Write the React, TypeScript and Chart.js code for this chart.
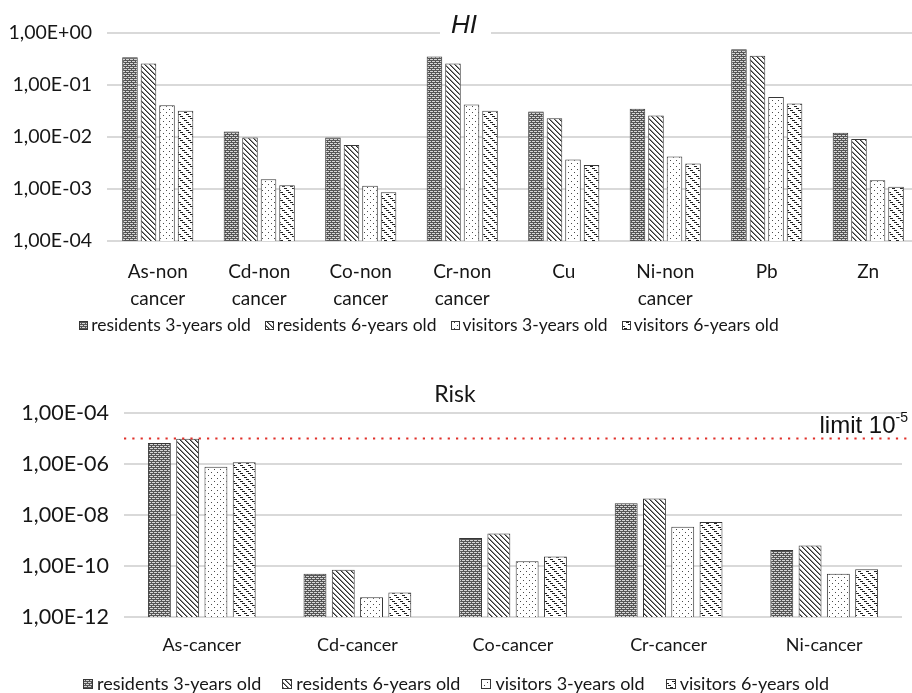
import React, { useEffect, useRef } from 'react';
import { Chart, registerables } from 'chart.js';

Chart.register(...registerables);

// ---- Hazard index (HI) ----
const HI_CATEGORIES = [
  ['As-non', 'cancer'],
  ['Cd-non', 'cancer'],
  ['Co-non', 'cancer'],
  ['Cr-non', 'cancer'],
  'Cu',
  ['Ni-non', 'cancer'],
  'Pb',
  'Zn',
];
const HI_RESIDENTS_3Y = [0.34, 0.0128, 0.0098, 0.355, 0.031, 0.035, 0.485, 0.0121];
const HI_RESIDENTS_6Y = [0.26, 0.0098, 0.007, 0.26, 0.023, 0.026, 0.366, 0.0092];
const HI_VISITORS_3Y = [0.041, 0.00154, 0.00115, 0.042, 0.0037, 0.0042, 0.059, 0.00147];
const HI_VISITORS_6Y = [0.032, 0.00118, 0.00087, 0.032, 0.0029, 0.0031, 0.044, 0.0011];
const HI_TICKS = [1e-4, 1e-3, 1e-2, 1e-1, 1];
const HI_TICK_LABELS = ['1,00E-04', '1,00E-03', '1,00E-02', '1,00E-01', '1,00E+00'];

// ---- Cancer risk ----
const RISK_CATEGORIES = ['As-cancer', 'Cd-cancer', 'Co-cancer', 'Cr-cancer', 'Ni-cancer'];
const RISK_RESIDENTS_3Y = [6.6e-6, 5.0e-11, 1.25e-9, 2.9e-8, 4.2e-10];
const RISK_RESIDENTS_6Y = [9.7e-6, 7.2e-11, 1.9e-9, 4.4e-8, 6.3e-10];
const RISK_VISITORS_3Y = [7.8e-7, 6.0e-12, 1.55e-10, 3.5e-9, 5.0e-11];
const RISK_VISITORS_6Y = [1.17e-6, 9.1e-12, 2.35e-10, 5.3e-9, 7.4e-11];
const RISK_TICKS = [1e-12, 1e-10, 1e-8, 1e-6, 1e-4];
const RISK_TICK_LABELS = ['1,00E-12', '1,00E-10', '1,00E-08', '1,00E-06', '1,00E-04'];
const RISK_LIMIT = 1e-5;
const RISK_LIMIT_LABEL = 'limit 10';
const RISK_LIMIT_EXPONENT = '-5';

const SERIES_LABELS = [
  'residents 3-years old',
  'residents 6-years old',
  'visitors 3-years old',
  'visitors 6-years old',
];

const FONT = 'Lato';
const TEXT = '#161616';
const GRID = '#d9d9d9';
const EDGE = '#363636';

type PatternKind = 'grid' | 'diag' | 'dots' | 'dashdiag';
const SERIES_PATTERNS: PatternKind[] = ['grid', 'diag', 'dots', 'dashdiag'];

function makePattern(ctx: CanvasRenderingContext2D, kind: PatternKind): CanvasPattern {
  const size = kind === 'grid' ? 4 : kind === 'dashdiag' ? 8 : kind === 'diag' ? 5 : 6;
  const tile = document.createElement('canvas');
  tile.width = size;
  tile.height = size;
  const g = tile.getContext('2d')!;
  g.fillStyle = kind === 'grid' ? '#555555' : '#ffffff';
  g.fillRect(0, 0, size, size);
  const px = (x: number, y: number, c: string) => {
    g.fillStyle = c;
    g.fillRect(x, y, 1, 1);
  };
  if (kind === 'grid') {
    [[0, 1], [1, 1], [2, 1], [2, 3], [3, 3], [0, 3]].forEach(([x, y]) => px(x, y, '#d6d6d6'));
  } else if (kind === 'diag') {
    for (let y = 0; y < size; y++)
      for (let x = 0; x < size; x++) {
        const d = (x - y + size * 2) % size;
        if (d === 0) px(x, y, '#2e2e2e');
        else if (d === 1) px(x, y, '#8c8c8c');
      }
  } else if (kind === 'dots') {
    px(1, 1, '#4a4a4a');
    px(4, 4, '#4a4a4a');
  } else {
    for (let y = 0; y < size; y += 2)
      for (let k = 0; k < 3; k++) px((y + k) % size, y, '#222222');
  }
  return ctx.createPattern(tile, 'repeat')!;
}

function tickLabel(ticks: number[], labels: string[], v: number): string {
  const i = ticks.findIndex((t) => Math.abs(Math.log10(t) - Math.log10(v)) < 1e-6);
  return i >= 0 ? labels[i] : '';
}

// Legend with hatched swatches, laid out centred on a given x.
const patternLegend = {
  id: 'patternLegend',
  afterDraw(chart: any, _args: any, opts: any) {
    const { ctx } = chart;
    ctx.save();
    ctx.font = `${opts.size}px ${FONT}`;
    const items = chart.data.datasets.map((ds: any) => ({
      label: ds.label as string,
      fill: ds.backgroundColor,
      w: ctx.measureText(ds.label).width,
    }));
    const total =
      items.reduce((s: number, it: any) => s + opts.box + opts.boxGap + it.w, 0) +
      opts.gap * (items.length - 1);
    let x = opts.centerX - total / 2;
    ctx.textBaseline = 'middle';
    ctx.textAlign = 'left';
    for (const it of items) {
      const top = Math.round(opts.y - opts.box / 2);
      ctx.fillStyle = it.fill;
      ctx.fillRect(Math.round(x), top, opts.box, opts.box);
      ctx.strokeStyle = EDGE;
      ctx.lineWidth = 1;
      ctx.strokeRect(Math.round(x) + 0.5, top + 0.5, opts.box - 1, opts.box - 1);
      ctx.fillStyle = TEXT;
      ctx.fillText(it.label, x + opts.box + opts.boxGap, opts.y);
      x += opts.box + opts.boxGap + it.w + opts.gap;
    }
    ctx.restore();
  },
};

// Title text drawn over a white patch so the gridline behind it is interrupted.
const panelTitle = {
  id: 'panelTitle',
  afterDraw(chart: any, _args: any, opts: any) {
    const { ctx } = chart;
    ctx.save();
    ctx.font = opts.font;
    const w = ctx.measureText(opts.text).width;
    if (opts.clear) {
      ctx.fillStyle = '#ffffff';
      ctx.fillRect(opts.x - w / 2 - opts.clear[0], opts.y - 8, w + opts.clear[0] + opts.clear[1], 12);
    }
    ctx.fillStyle = TEXT;
    ctx.textAlign = 'center';
    ctx.textBaseline = 'alphabetic';
    ctx.fillText(opts.text, opts.x, opts.y);
    ctx.restore();
  },
};

// Dotted threshold line with its label, for the risk panel.
const limitLine = {
  id: 'limitLine',
  afterDatasetsDraw(chart: any, _args: any, opts: any) {
    if (!opts || opts.value == null) return;
    const { ctx, chartArea } = chart;
    const y = chart.scales.y.getPixelForValue(opts.value);
    ctx.save();
    ctx.strokeStyle = '#e0302a';
    ctx.lineWidth = 2.2;
    ctx.setLineDash([2.2, 6.1]);
    ctx.beginPath();
    ctx.moveTo(chartArea.left, y);
    ctx.lineTo(chart.width, y);
    ctx.stroke();
    ctx.setLineDash([]);
    const big = '24px "Liberation Sans"';
    const small = '14px "Liberation Sans"';
    ctx.font = big;
    const mainW = ctx.measureText(opts.label).width;
    ctx.font = small;
    const supW = ctx.measureText(opts.exponent).width;
    const right = chart.width - 4;
    ctx.fillStyle = '#111111';
    ctx.textBaseline = 'alphabetic';
    ctx.textAlign = 'left';
    ctx.font = big;
    ctx.fillText(opts.label, right - supW - mainW, y - 6);
    ctx.font = small;
    ctx.fillText(opts.exponent, right - supW, y - 17);
    ctx.restore();
  },
};

interface PanelSpec {
  categories: any[];
  series: number[][];
  min: number;
  max: number;
  ticks: number[];
  tickLabels: string[];
  yFont: number;
  yWidth: number;
  yPad: number;
  xFont: number;
  xLineHeight: number;
  xPad: number;
  xHeight: number;
  padding: { top: number; right: number; left: number; bottom: number };
  catPct: number;
  barPct: number;
  title: any;
  legend: any;
  limit?: any;
}

function buildPanel(canvas: HTMLCanvasElement, spec: PanelSpec): Chart {
  const ctx = canvas.getContext('2d')!;
  const datasets = spec.series.map((data, i) => ({
    label: SERIES_LABELS[i],
    data,
    backgroundColor: makePattern(ctx, SERIES_PATTERNS[i]),
    borderColor: EDGE,
    borderWidth: 1,
    categoryPercentage: spec.catPct,
    barPercentage: spec.barPct,
  }));
  return new Chart(canvas, {
    type: 'bar',
    data: { labels: spec.categories, datasets },
    plugins: [limitLine, panelTitle, patternLegend],
    options: {
      responsive: false,
      animation: false,
      devicePixelRatio: 1,
      layout: { padding: spec.padding },
      scales: {
        x: {
          grid: { display: false },
          border: { display: false },
          ticks: {
            color: TEXT,
            font: { family: FONT, size: spec.xFont, lineHeight: spec.xLineHeight },
            padding: spec.xPad,
            maxRotation: 0,
            autoSkip: false,
          },
          afterFit: (scale: any) => {
            scale.height = spec.xHeight;
          },
        },
        y: {
          type: 'logarithmic',
          min: spec.min,
          max: spec.max,
          border: { display: false },
          grid: { color: GRID, lineWidth: 2, drawTicks: false },
          ticks: {
            color: TEXT,
            font: { family: FONT, size: spec.yFont },
            padding: spec.yPad,
            callback: (v: any) => tickLabel(spec.ticks, spec.tickLabels, Number(v)),
          },
          afterBuildTicks: (scale: any) => {
            scale.ticks = spec.ticks.map((value) => ({ value }));
          },
          afterFit: (scale: any) => {
            scale.width = spec.yWidth;
          },
        },
      },
      plugins: {
        legend: { display: false },
        tooltip: { enabled: false },
        panelTitle: spec.title,
        patternLegend: spec.legend,
        limitLine: spec.limit ?? {},
      } as any,
    },
  } as any);
}

export default function App() {
  const hiRef = useRef<HTMLCanvasElement>(null);
  const riskRef = useRef<HTMLCanvasElement>(null);

  useEffect(() => {
    const hi = buildPanel(hiRef.current!, {
      categories: HI_CATEGORIES,
      series: [HI_RESIDENTS_3Y, HI_RESIDENTS_6Y, HI_VISITORS_3Y, HI_VISITORS_6Y],
      min: 1e-4,
      max: 1,
      ticks: HI_TICKS,
      tickLabels: HI_TICK_LABELS,
      yFont: 19.5,
      yWidth: 107,
      yPad: 15,
      xFont: 19,
      xLineHeight: 1.42,
      xPad: 9,
      xHeight: 104,
      padding: { top: 33, right: 1, left: 0, bottom: 0 },
      catPct: 0.73,
      barPct: 0.84,
      title: { text: 'HI', font: 'italic 26px "Liberation Sans"', x: 464, y: 33, clear: [11, 14] },
      legend: { centerX: 429, y: 325, size: 17.5, box: 9, boxGap: 3, gap: 14 },
    });
    const risk = buildPanel(riskRef.current!, {
      categories: RISK_CATEGORIES,
      series: [RISK_RESIDENTS_3Y, RISK_RESIDENTS_6Y, RISK_VISITORS_3Y, RISK_VISITORS_6Y],
      min: 1e-12,
      max: 1e-4,
      ticks: RISK_TICKS,
      tickLabels: RISK_TICK_LABELS,
      yFont: 21.5,
      yWidth: 124,
      yPad: 15,
      xFont: 18,
      xLineHeight: 1.2,
      xPad: 9.5,
      xHeight: 76,
      padding: { top: 68, right: 10, left: 0, bottom: 0 },
      catPct: 0.727,
      barPct: 0.81,
      title: { text: 'Risk', font: `23px ${FONT}`, x: 455, y: 57 },
      legend: { centerX: 456, y: 339, size: 18, box: 10, boxGap: 4, gap: 21 },
      limit: { value: RISK_LIMIT, label: RISK_LIMIT_LABEL, exponent: RISK_LIMIT_EXPONENT },
    });
    return () => {
      hi.destroy();
      risk.destroy();
    };
  }, []);

  return (
    <div
      style={{
        position: 'fixed',
        left: 0,
        top: 0,
        width: 912,
        height: 693,
        overflow: 'hidden',
        background: '#ffffff',
      }}
    >
      <canvas ref={hiRef} width={920} height={345} style={{ position: 'absolute', left: 0, top: 0 }} />
      <canvas ref={riskRef} width={912} height={348} style={{ position: 'absolute', left: 0, top: 345 }} />
    </div>
  );
}
